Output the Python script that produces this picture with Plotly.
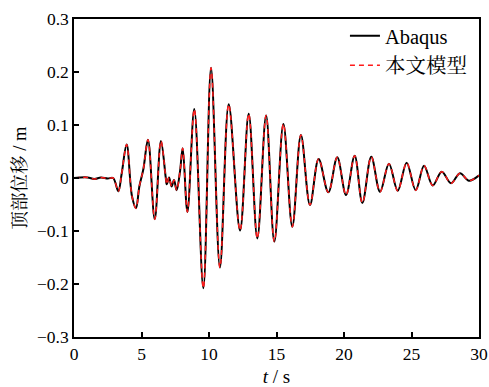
import plotly.graph_objects as go

# Time (s) of the turning points
time_s = [0.0, 1.0, 1.5, 2.0, 2.5, 2.9, 3.28, 3.53, 3.9, 4.3, 4.59, 4.84, 5.14, 5.48,
          5.98, 6.44, 6.79, 6.87, 7.04, 7.23, 7.41, 7.6, 7.85, 8.05, 8.4, 8.91,
          9.58, 10.15, 10.81, 11.46, 12.3, 12.94, 13.58, 14.23, 14.84, 15.51,
          16.17, 16.81, 17.48, 18.12, 18.84, 19.5, 20.15, 20.79, 21.36, 22.02,
          22.67, 23.33, 23.98, 24.64, 25.31, 25.93, 26.57, 27.24, 27.93, 28.59,
          29.26, 30.0]

# Top displacement (m), Abaqus
abaqus_disp = [0.0, 0.001, -0.002, 0.001, -0.001, 0.0, -0.025, 0.008, 0.063, -0.035,
               -0.057, -0.016, 0.017, 0.072, -0.078, 0.070, 0.002, -0.012, 0.001,
               -0.016, -0.004, -0.023, 0.012, 0.056, -0.064, 0.130, -0.208, 0.208,
               -0.169, 0.139, -0.099, 0.121, -0.114, 0.118, -0.120, 0.102, -0.092,
               0.081, -0.051, 0.036, -0.027, 0.039, -0.032, 0.042, -0.047, 0.040,
               -0.026, 0.027, -0.024, 0.029, -0.023, 0.023, -0.014, 0.012, -0.010,
               0.009, -0.005, 0.005]

# Top displacement (m), proposed model (coincides with Abaqus at picture resolution)
model_disp = [0.0, 0.001, -0.002, 0.001, -0.001, 0.0, -0.025, 0.008, 0.063, -0.035,
              -0.057, -0.016, 0.017, 0.072, -0.078, 0.070, 0.002, -0.012, 0.001,
              -0.016, -0.004, -0.023, 0.012, 0.056, -0.064, 0.130, -0.208, 0.208,
              -0.169, 0.139, -0.099, 0.121, -0.114, 0.118, -0.120, 0.102, -0.092,
              0.081, -0.051, 0.036, -0.027, 0.039, -0.032, 0.042, -0.047, 0.040,
              -0.026, 0.027, -0.024, 0.029, -0.023, 0.023, -0.014, 0.012, -0.010,
              0.009, -0.005, 0.005]

series_names = ["Abaqus", "本文模型"]
x_ticks = [0, 5, 10, 15, 20, 25, 30]
y_ticks = [-0.3, -0.2, -0.1, 0, 0.1, 0.2, 0.3]
y_tick_text = ["\u22120.3", "\u22120.2", "\u22120.1", "0", "0.1", "0.2", "0.3"]

FONT = "Times New Roman, Liberation Serif, Noto Serif CJK SC, Noto Sans CJK SC, serif"

fig = go.Figure()
fig.add_trace(go.Scatter(
    x=time_s, y=abaqus_disp, mode="lines", name=series_names[0],
    line=dict(color="black", width=2.0, shape="spline", smoothing=1.0),
    legendgroup="a"))
fig.add_trace(go.Scatter(
    x=time_s, y=model_disp, mode="lines", name=series_names[1],
    line=dict(color="#ff1a1a", width=1.5, dash="5px,4px", shape="spline", smoothing=1.0),
    legendgroup="b"))

axis_common = dict(
    showline=True, linecolor="black", linewidth=1.5, mirror=True,
    ticks="inside", ticklen=5, tickwidth=1.5, tickcolor="black",
    showgrid=False, zeroline=False, automargin=False,
    tickfont=dict(family=FONT, size=17.5, color="black"),
)

fig.update_layout(
    width=489, height=387,
    margin=dict(l=74, r=10, t=19, b=50),
    plot_bgcolor="white", paper_bgcolor="white",
    font=dict(family=FONT, size=17, color="black"),
    showlegend=True,
    legend=dict(x=0.669, y=1.01, xanchor="left", yanchor="top",
                bgcolor="rgba(0,0,0,0)", borderwidth=0,
                font=dict(family=FONT, size=20.5, color="black"),
                tracegroupgap=0, traceorder="grouped"),
    xaxis=dict(range=[0, 30], tickvals=x_ticks,
               title=dict(text="<i>t</i> / s", standoff=7,
                          font=dict(family=FONT, size=19)),
               **axis_common),
    yaxis=dict(range=[-0.3, 0.3], tickvals=y_ticks, ticktext=y_tick_text,
               title=dict(text="顶部位移 / m", standoff=6,
                          font=dict(family=FONT, size=18.5)),
               **axis_common),
)

fig.write_html("out.html")
